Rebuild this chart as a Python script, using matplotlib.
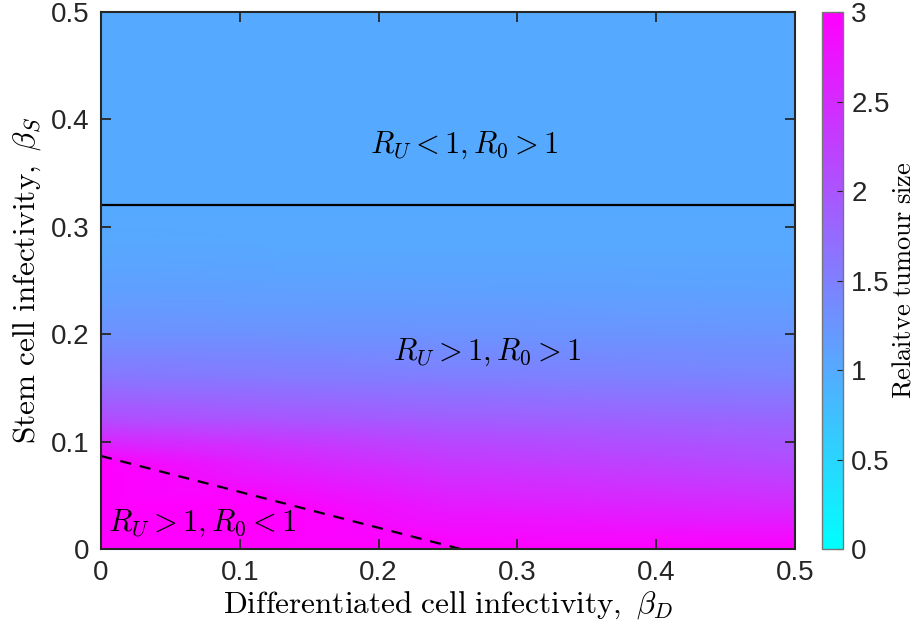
import numpy as np
import matplotlib
matplotlib.use("Agg")
import matplotlib.pyplot as plt

plt.rcParams['mathtext.fontset'] = 'cm'
plt.rcParams['font.family'] = ['Liberation Sans', 'DejaVu Sans']

# grid: beta_D columns, beta_S rows
beta_d = [0.0, 0.125, 0.25, 0.5]
beta_s = [0.0, 0.04, 0.08, 0.10, 0.12, 0.16, 0.20, 0.24, 0.28, 0.32, 0.5]
# relative tumour size (rows = beta_s, cols = beta_d)
tumour = [
    [3.00, 3.00, 3.00, 3.00],
    [3.00, 3.00, 2.70, 2.50],
    [3.00, 2.60, 2.35, 2.10],
    [2.55, 2.35, 2.15, 1.95],
    [2.10, 2.00, 1.90, 1.80],
    [1.60, 1.55, 1.50, 1.45],
    [1.30, 1.28, 1.27, 1.25],
    [1.13, 1.12, 1.12, 1.10],
    [1.04, 1.03, 1.03, 1.03],
    [1.00, 1.00, 1.00, 1.00],
    [1.00, 1.00, 1.00, 1.00],
]

# boundaries
ru_line = 0.32            # R_U = 1
r0_x = [0.0, 0.259]       # R_0 = 1 (dashed)
r0_y = [0.0866, 0.0]

fig = plt.figure(figsize=(9.22, 6.33), dpi=100)
ax = fig.add_axes([0.1095, 0.1327, 0.7528, 0.8483])
cax = fig.add_axes([0.8915, 0.1327, 0.0228, 0.8483])

X, Y = np.meshgrid(beta_d, beta_s)
pc = ax.pcolormesh(X, Y, np.array(tumour), shading='gouraud', cmap='cool',
                   vmin=0, vmax=3)

ax.axhline(ru_line, color='k', lw=1.6)
ax.plot(r0_x, r0_y, 'k--', lw=1.6, dashes=(5, 4))

ax.text(0.262, 0.376, r'$R_U<1, R_0>1$', fontsize=22, ha='center', va='center')
ax.text(0.278, 0.183, r'$R_U>1, R_0>1$', fontsize=22, ha='center', va='center')
ax.text(0.005, 0.024, r'$R_U>1, R_0<1$', fontsize=22, ha='left', va='center')

ax.set_xlim(0, 0.5)
ax.set_ylim(0, 0.5)
ax.set_xticks([0, 0.1, 0.2, 0.3, 0.4, 0.5])
ax.set_yticks([0, 0.1, 0.2, 0.3, 0.4, 0.5])
ax.set_xticklabels(['0', '0.1', '0.2', '0.3', '0.4', '0.5'])
ax.set_yticklabels(['0', '0.1', '0.2', '0.3', '0.4', '0.5'])
ax.tick_params(direction='in', length=7, width=1.3, labelsize=20,
               top=True, right=True, colors='#262626', pad=8)
for sp in ax.spines.values():
    sp.set_linewidth(1.5)
    sp.set_color('#262626')

ax.set_xlabel(r'$\mathrm{Differentiated\ cell\ infectivity,}\ \beta_D$',
              fontsize=22.5, labelpad=2)
ax.set_ylabel(r'$\mathrm{Stem\ cell\ infectivity,}\ \beta_S$',
              fontsize=22.5, labelpad=6)

cb = fig.colorbar(pc, cax=cax)
cb.set_ticks([0, 0.5, 1, 1.5, 2, 2.5, 3])
cb.set_ticklabels(['0', '0.5', '1', '1.5', '2', '2.5', '3'])
cb.ax.tick_params(direction='in', length=4, width=0.8, labelsize=20,
                  colors='#262626', pad=6)
cb.outline.set_edgecolor('#777777')
cb.outline.set_linewidth(1.0)
cb.set_label(r'$\mathrm{Relaitve\ tumour\ size}$', fontsize=19, labelpad=1)

fig.savefig('out.png', dpi=100)
